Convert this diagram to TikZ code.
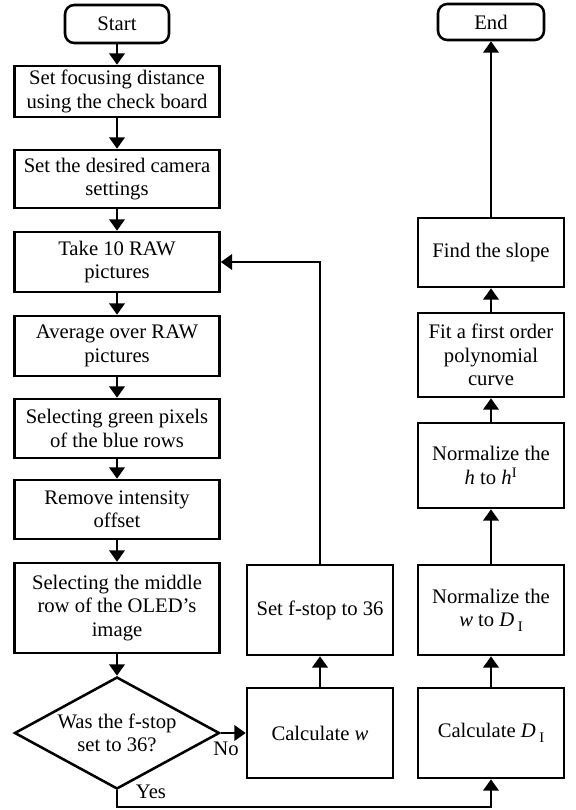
\documentclass[tikz,border=0pt]{standalone}
\usepackage{fontspec}
\setmainfont{Liberation Serif}
\usetikzlibrary{arrows.meta,shapes.geometric}
\tikzset{
  box/.style={draw,line width=1.9pt,align=center,inner sep=1pt,font=\fontsize{15.5}{17.5}\selectfont},
  lbox/.style={box,minimum width=153.75pt},
  rbox/.style={box,minimum width=109.5pt,minimum height=67.5pt},
  term/.style={box,rounded corners=7pt},
  arr/.style={line width=1.9pt,-{Triangle[width=11.5pt,length=8.5pt]}},
  lbl/.style={font=\fontsize{15.5}{17.5}\selectfont,inner sep=0pt}
}
\newcommand{\DI}{\textit{D}\,\raisebox{-0.5ex}{\fontsize{11}{11}\selectfont I}}
\begin{document}
\begin{tikzpicture}[x=0.75pt,y=-0.75pt]
\useasboundingbox (0,0) rectangle (575,810);
% left column
\node[term,minimum width=78pt,minimum height=28.5pt] (start) at (117,24) {Start};
\node[lbox,minimum height=38.25pt] (b1) at (117,91.5) {Set focusing distance\\using the check board};
\node[lbox,minimum height=43.5pt] (b2) at (117,179) {Set the desired camera\\settings};
\node[lbox,minimum height=45pt] (b3) at (117,262) {Take 10 RAW\\pictures};
\node[lbox,minimum height=45pt] (b4) at (117,346) {Average over RAW\\pictures};
\node[lbox,minimum height=44.25pt] (b5) at (117,428.5) {Selecting green pixels\\of the blue rows};
\node[lbox,minimum height=44.25pt] (b6) at (117,509.5) {Remove intensity\\offset};
\node[lbox,minimum height=67.5pt] (b7) at (117,608) {Selecting the middle\\row of the OLED's\\image};
\node[box,shape=diamond,aspect=1.83,minimum width=153.75pt,minimum height=84pt,inner sep=0pt] (dia) at (117,733) {Was the f-stop\\set to 36?};
% middle column
\node[rbox] (setf) at (320,610) {Set f-stop to 36};
\node[rbox] (calcw) at (320,733) {Calculate \textit{w}};
% right column
\node[rbox] (calcD) at (491,733) {Calculate \DI};
\node[rbox] (normw) at (491,610) {Normalize the\\\textit{w} to \DI};
\node[rbox,minimum height=63.75pt] (normh) at (491,465.5) {Normalize the\\\textit{h} to \textit{h}\textsuperscript{I}};
\node[rbox,minimum height=63pt] (fit) at (491,355) {Fit a first order\\polynomial\\curve};
\node[rbox,minimum height=51.75pt] (slope) at (491,252.5) {Find the slope};
\node[term,minimum width=79.5pt,minimum height=27pt] (end) at (491,22) {End};
% connectors
\draw[arr] (start) -- (b1);
\draw[arr] (b1) -- (b2);
\draw[arr] (b2) -- (b3);
\draw[arr] (b3) -- (b4);
\draw[arr] (b4) -- (b5);
\draw[arr] (b5) -- (b6);
\draw[arr] (b6) -- (b7);
\draw[arr] (b7) -- (dia);
\draw[arr] (dia.east) -- (calcw.west);
\node[lbl] (no) at (226,749) {No};
\draw[arr] (calcw) -- (setf);
\draw[arr] (setf.north) |- (b3.east);
\coordinate (yb) at (117,807);
\draw[arr] (dia.south) -- (yb) -| (calcD.south);
\node[lbl] (yes) at (151,792) {Yes};
\draw[arr] (calcD) -- (normw);
\draw[arr] (normw) -- (normh);
\draw[arr] (normh) -- (fit);
\draw[arr] (fit) -- (slope);
\draw[arr] (slope) -- (end);
\end{tikzpicture}
\end{document}
